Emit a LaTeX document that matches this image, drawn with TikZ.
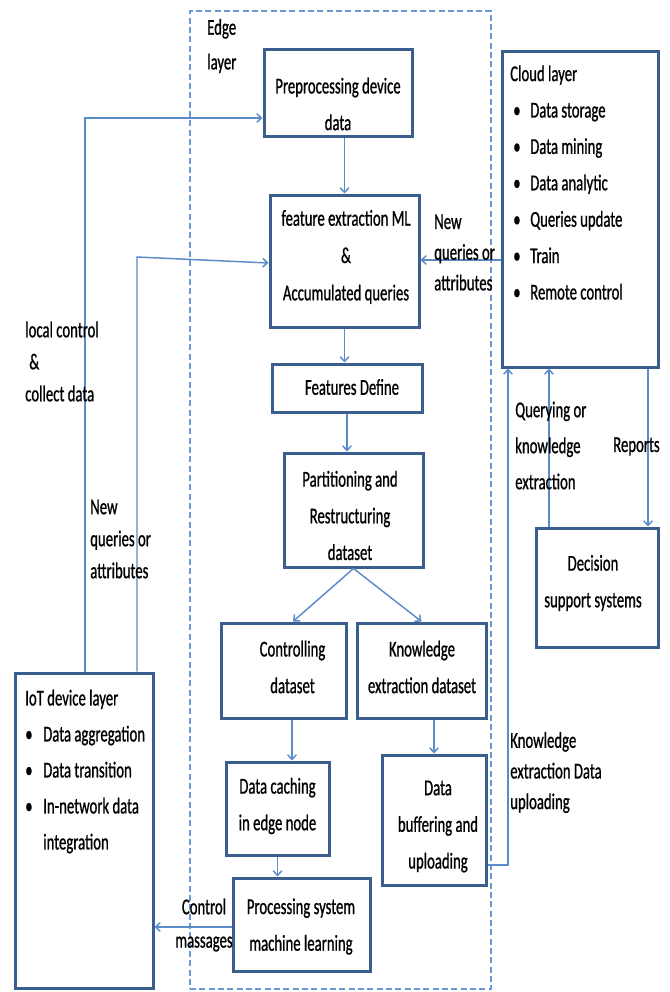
\documentclass[tikz,border=0pt]{standalone}
\usepackage{fontspec}
\setmainfont{Carlito}[FakeStretch=0.65,FakeBold=0.8]
\usetikzlibrary{arrows.meta,fit}
\definecolor{boxblue}{HTML}{3A5F8F}
\definecolor{arrblue}{HTML}{5B8BC9}
\definecolor{dashblue}{HTML}{6A98D0}
\newcommand{\cblt}{\makebox[15pt][l]{\hspace{2.25pt}•}}
\newcommand{\iblt}{\makebox[13.5pt][l]{•}}
\begin{document}
\begin{tikzpicture}[x=0.75pt,y=-0.75pt,
  box/.style={draw=boxblue,line width=2.25pt,inner sep=0pt},
  edgebox/.style={draw=dashblue,line width=1.1pt,dash pattern=on 4.5pt off 2.5pt,inner sep=0pt},
  arr/.style={draw=arrblue,line width=1.1pt,-{Straight Barb[length=3.5pt,width=6.5pt]}},
  txt/.style={inner sep=0pt,text=black,font=\fontsize{17}{27.5}\selectfont},
  lab/.style={inner sep=0pt,text=black,font=\fontsize{17}{24}\selectfont}]
\useasboundingbox (0,0) rectangle (669,992);
% boxes
\node[edgebox,fit={(190,11)(491,989)}] (edge) {};
\node[box,fit={(264,49)(412,136)}] (pre) {};
\node[box,fit={(270,195)(419,327)}] (feat) {};
\node[box,fit={(272,364)(422,412)}] (fd) {};
\node[box,fit={(284,453)(423,567)}] (part) {};
\node[box,fit={(221,623)(346,718)}] (ctrl) {};
\node[box,fit={(357,623)(486,718)}] (know) {};
\node[box,fit={(226,762)(329,855)}] (cache) {};
\node[box,fit={(233,878)(370,971)}] (proc) {};
\node[box,fit={(382,755)(486,885)}] (buf) {};
\node[box,fit={(502,51)(658,367)}] (cloud) {};
\node[box,fit={(536,528)(658,647)}] (dss) {};
\node[box,fit={(15,673)(153,988)}] (iot) {};
% helper coordinates
\coordinate (a1) at (85,118);
\coordinate (a2) at (137,257);
\coordinate (a2e) at (270,263);
\coordinate (a3) at (0,260);
\coordinate (c1) at (293,623);
\coordinate (x292) at (292,0);
\coordinate (c865) at (0,865);
\coordinate (x508) at (508,0);
\coordinate (x549) at (549,0);
\coordinate (x648) at (648,0);
\coordinate (y927) at (0,927);
% connectors
\draw[arr] (pre.south -| feat.north) -- (feat.north);
\draw[arr] (iot.north -| a1) |- (pre.west |- a1);
\draw[arr] (iot.north -| a2) -- (a2) -- (feat.west |- a2e);
\draw[arr] (cloud.west |- a3) -- (feat.east |- a3);
\draw[arr] (feat.south) -- (feat.south |- fd.north);
\draw[arr] (fd.south) -- (fd.south |- part.north);
\draw[arr] (part.south) -- (ctrl.north -| c1);
\draw[arr] (part.south) -- (know.north);
\draw[arr] (ctrl.south -| x292) -- (cache.north -| x292);
\draw[arr] (cache.south) -- (proc.north -| cache.south);
\draw[arr] (know.south -| buf.north) -- (buf.north);
\draw[arr] (buf.east |- c865) -| (cloud.south -| x508);
\draw[arr] (dss.north -| x549) -- (cloud.south -| x549);
\draw[arr] (cloud.south -| x648) -- (dss.north -| x648);
\draw[arr] (proc.west |- y927) -- (iot.east |- y927);
% texts
\node[txt,align=left,anchor=west,font=\fontsize{17}{26}\selectfont] (edgeT) at (207,46) {Edge\\layer};
\node[txt,align=center] (preT) at (338,104) {Preprocessing device\\data};
\node[txt,align=center,font=\fontsize{17}{28}\selectfont] (featT) at (346,257) {feature extraction ML\\\&\\Accumulated queries};
\node[txt] (fdT) at (352,387) {Features Define};
\node[txt,align=center] (partT) at (350,515.5) {Partitioning and\\Restructuring\\dataset};
\node[txt,align=center] (ctrlT) at (292.5,667) {Controlling\\dataset};
\node[txt,align=center] (knowT) at (422,667) {Knowledge\\extraction dataset};
\node[txt,align=center] (cacheT) at (277.5,806) {Data caching\\in edge node};
\node[txt,align=center] (procT) at (301,926.5) {Processing system\\machine learning};
\node[txt,align=center] (bufT) at (438,826.5) {Data\\buffering and\\uploading};
\node[txt,align=center] (dssT) at (593,583) {Decision\\support systems};
\node[txt,align=left,anchor=west,font=\fontsize{17}{27.3}\selectfont] (cloudT) at (510,182.5)
  {Cloud layer\\\cblt Data storage\\\cblt Data mining\\\cblt Data analytic\\\cblt Queries update\\\cblt Train\\\cblt Remote control};
\node[txt,align=left,anchor=west,font=\fontsize{17}{27}\selectfont] (iotT) at (25,771.5)
  {IoT device layer\\\iblt Data aggregation\\\iblt Data transition\\\iblt In-network data\\\hspace*{13.5pt}integration};
\node[lab,align=left,anchor=west] (lcT) at (25,361.5) {local control\\\hspace*{3pt}\&\\collect data};
\node[lab,align=left,anchor=west] (nqlT) at (90,539) {New\\queries or\\attributes};
\node[lab,align=left,anchor=west,font=\fontsize{17}{23}\selectfont] (nqrT) at (434,252.5) {New\\queries or\\attributes};
\node[txt,align=left,anchor=west,font=\fontsize{17}{27}\selectfont] (qkT) at (515,445.5) {Querying or\\knowledge\\extraction};
\node[txt,anchor=west] (repT) at (613,446.5) {Reports};
\node[lab,align=left,anchor=west,font=\fontsize{17}{23}\selectfont] (keT) at (510,772.5) {Knowledge\\extraction Data\\uploading};
\node[lab,align=center,font=\fontsize{17}{25}\selectfont] (cmT) at (204,925) {Control\\massages};
\end{tikzpicture}
\end{document}
